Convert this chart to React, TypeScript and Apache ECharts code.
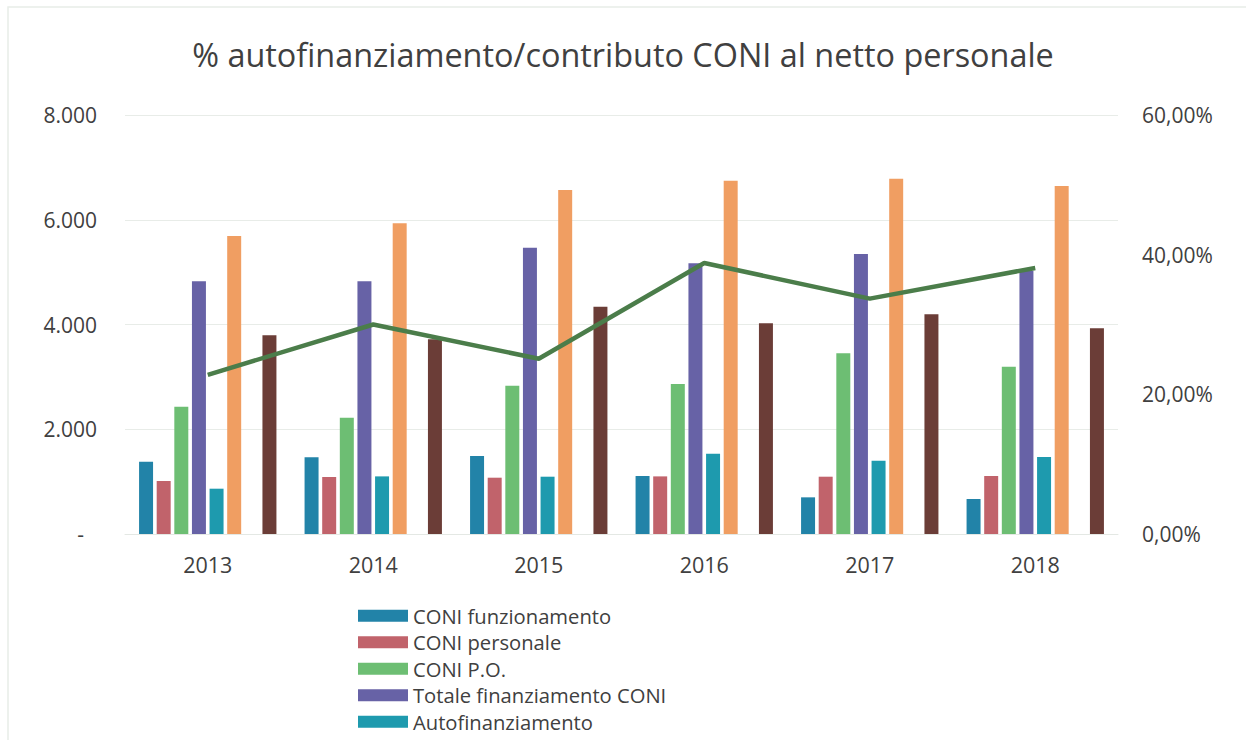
import React, { useEffect, useRef } from "react";
import * as echarts from "echarts";

const years = ["2013", "2014", "2015", "2016", "2017", "2018"];
const coniFunzionamento = [1380, 1465, 1489, 1107, 700, 668];
const coniPersonale = [1012, 1088, 1075, 1100, 1094, 1107];
const coniPO = [2430, 2221, 2832, 2864, 3450, 3194];
const totaleFinanziamentoConi = [4825, 4825, 5466, 5168, 5346, 5027];
const autofinanziamento = [865, 1100, 1094, 1533, 1400, 1470];
const totaleEntrate = [5690, 5932, 6568, 6745, 6784, 6644];
const serieVuota = [null, null, null, null, null, null];
const coniNettoPersonale = [3795, 3717, 4340, 4022, 4195, 3927];
const percentuale = [22.8, 30.0, 25.1, 38.8, 33.7, 38.1];

const leftTicks = { min: 0, max: 8000, interval: 2000 };
const rightTicks = { min: 0, max: 60, interval: 20 };

const FONT = "'Open Sans', 'Noto Sans', sans-serif";

export default function App() {
  const ref = useRef<HTMLDivElement>(null);
  useEffect(() => {
    if (!ref.current) return;
    const chart = echarts.init(ref.current, undefined, { renderer: "svg" });
    const bar = (name: string, data: (number | null)[], color: string) => ({
      name,
      type: "bar",
      data,
      yAxisIndex: 0,
      itemStyle: { color },
      barGap: "26%",
      barCategoryGap: "17%",
    });
    chart.setOption({
      animation: false,
      backgroundColor: "#ffffff",
      textStyle: { fontFamily: FONT },
      graphic: [
        {
          type: "rect",
          shape: { x: 8, y: 7, width: 1260, height: 800 },
          style: { fill: "none", stroke: "#e8ede8", lineWidth: 1.5 },
          silent: true,
        },
      ],
      title: {
        text: "% autofinanziamento/contributo CONI al netto personale",
        left: "center",
        top: 33,
        textStyle: { fontFamily: FONT, fontSize: 32.4, fontWeight: "normal", color: "#404040" },
      },
      legend: {
        orient: "vertical",
        left: 353,
        top: 599,
        height: 300,
        itemWidth: 50,
        itemHeight: 12,
        itemGap: 3,
        icon: "rect",
        textStyle: { fontFamily: FONT, fontSize: 20.2, color: "#404040", lineHeight: 23.5 },
        data: [
          "CONI funzionamento",
          "CONI personale",
          "CONI P.O.",
          "Totale finanziamento CONI",
          "Autofinanziamento",
        ],
      },
      grid: { left: 125, right: 128, top: 115, bottom: 206 },
      xAxis: {
        type: "category",
        data: years,
        axisLine: { show: true, lineStyle: { color: "#e4e8e4", width: 1 } },
        axisTick: { show: false },
        axisLabel: { color: "#404040", fontSize: 21.5, margin: 19, fontFamily: FONT },
      },
      yAxis: [
        {
          type: "value",
          ...leftTicks,
          axisLine: { show: false },
          axisTick: { show: false },
          splitLine: { lineStyle: { color: "#e8ece8", width: 1 } },
          axisLabel: {
            color: "#404040",
            fontSize: 21,
            margin: 28,
            fontFamily: FONT,
            formatter: (v: number) =>
              v === 0 ? "{d|-}" : v.toLocaleString("de-DE"),
            rich: { d: { fontSize: 21, color: "#404040", padding: [0, 13, 0, 0] } },
          },
        },
        {
          type: "value",
          ...rightTicks,
          axisLine: { show: false },
          axisTick: { show: false },
          splitLine: { show: false },
          axisLabel: {
            color: "#404040",
            fontSize: 21,
            margin: 24,
            fontFamily: FONT,
            formatter: (v: number) => v.toFixed(2).replace(".", ",") + "%",
          },
        },
      ],
      series: [
        bar("CONI funzionamento", coniFunzionamento, "#2283A8"),
        bar("CONI personale", coniPersonale, "#C1636B"),
        bar("CONI P.O.", coniPO, "#6DBE73"),
        bar("Totale finanziamento CONI", totaleFinanziamentoConi, "#6762A6"),
        bar("Autofinanziamento", autofinanziamento, "#1E9AAE"),
        bar("Totale entrate", totaleEntrate, "#F09E62"),
        bar("Serie vuota", serieVuota, "#999999"),
        bar("Contributo CONI al netto personale", coniNettoPersonale, "#6B3D37"),
        {
          name: "% autofinanziamento/contributo CONI al netto personale",
          type: "line",
          yAxisIndex: 1,
          data: percentuale,
          symbol: "none",
          lineStyle: { color: "#4B7D4A", width: 4.5 },
          itemStyle: { color: "#4B7D4A" },
          z: 5,
        },
      ],
    });
    return () => chart.dispose();
  }, []);
  return (
    <div
      ref={ref}
      style={{ position: "absolute", left: 0, top: 0, width: 1246, height: 740 }}
    />
  );
}
